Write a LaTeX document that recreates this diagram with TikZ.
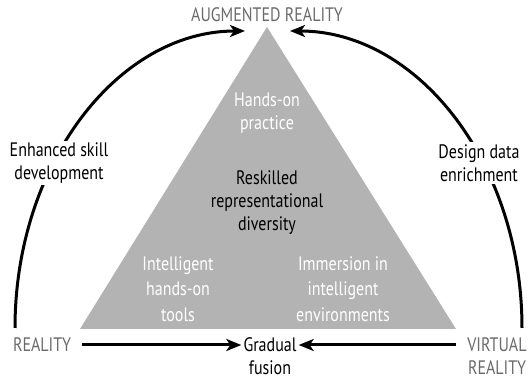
\documentclass[tikz,border=0pt]{standalone}
\usepackage{fontspec}
\setmainfont{PT Sans}[FakeStretch=0.82]
\usepackage{tikz}
\usetikzlibrary{positioning, arrows.meta}
\definecolor{trigray}{HTML}{B3B3B3}
\definecolor{polegray}{HTML}{6A6A6A}

\begin{document}
\begin{tikzpicture}[
  x=1pt, y=1pt,
  every node/.style={font=\fontsize{19.5}{23}\selectfont, align=center, inner sep=2pt},
  poletext/.style={text=polegray},
  sidetext/.style={text=black, fill=white},
  tritext/.style={text=white},
  arrow/.style={-{Stealth[length=15pt, width=12pt, inset=4pt]}, line width=3pt},
]
  \useasboundingbox (0,0) rectangle (531,382);

  % Triangle
  \coordinate (apex) at (267,355);
  \coordinate (baseL) at (80,53);
  \coordinate (baseR) at (456,53);
  \fill [trigray] (baseL) -- (apex) -- (baseR) -- cycle;

  % Texts inside the triangle
  \node (practice) [tritext] at (267,269) {Hands-on\\practice};
  \node (diversity) at (267,179) {Reskilled\\representational\\diversity};
  \node (tools) [tritext, font=\fontsize{19.5}{25.5}\selectfont] at (178,93) {Intelligent\\hands-on\\tools};
  \node (immersion) [tritext, font=\fontsize{19.5}{25.5}\selectfont] at (343,93) {Immersion in\\intelligent\\environments};

  % Corner labels
  \node (augmented) [poletext] at (267,367) {AUGMENTED REALITY};
  \node (reality) [poletext] at (42,37) {REALITY};
  \node (virtual) [poletext] at (497,26) {VIRTUAL\\REALITY};
  \node (fusion) at (270,26) {Gradual\\fusion};

  % Arcs to the top
  \coordinate (arcL) at (15,54);
  \coordinate (arcR) at (522,54);
  \draw [arrow] (arcL) arc [start angle=180, end angle=90, x radius=230, y radius=297];
  \draw [arrow] (arcR) arc [start angle=0, end angle=90, x radius=232, y radius=297];

  % Labels on the arcs
  \node (skill) [sidetext] at (59,219) {Enhanced skill\\development};
  \node (design) [sidetext] at (479,219) {Design data\\enrichment};

  % Arrows to the fusion
  \draw [arrow] ([xshift=9pt]reality.east) -- (reality.east -| fusion.west);
  \draw [arrow] (reality.east -| baseR) -- (reality.east -| fusion.east);

\end{tikzpicture}
\end{document}
